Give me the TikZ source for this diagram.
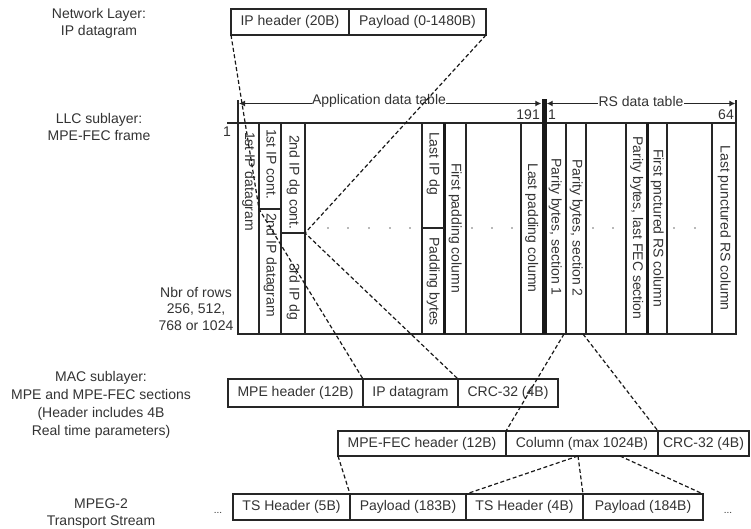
\documentclass[tikz,border=0pt]{standalone}
\usepackage{fontspec}
\setmainfont{Liberation Sans}
\usetikzlibrary{arrows.meta}
\begin{document}
\begin{tikzpicture}[x=1pt,y=-1pt,
  every node/.style={font=\fontsize{14}{17}\selectfont, text=black!80},
  cell/.style={draw=black!85, line width=1.2pt, inner sep=0pt, outer sep=0pt},
  lbl/.style={align=center, inner sep=0pt},
  rot/.style={rotate=-90, inner sep=0pt, text height=10pt, text depth=3pt},
  gridline/.style={draw=black!85, line width=1.2pt},
  boldcol/.style={draw=black!90, line width=3pt},
  sepcol/.style={draw=black!90, line width=5pt},
  dashline/.style={draw=black!90, line width=1.2pt, dash pattern=on 4pt off 2.5pt},
  dotmark/.style={circle, fill=black!55, inner sep=0pt, minimum size=1.7pt},
  dimline/.style={draw=black!85, line width=1.2pt},
  tip/.style={-{Latex[length=6pt,width=6pt]}},
]
\fill[white] (0,0) rectangle (751,528);
\useasboundingbox (0,0) rectangle (751,528);

% ---------------- left labels
\node[lbl] (netl) at (99,23.5) {Network Layer:\\IP datagram};
\node[lbl] (llc) at (99,126.5) {LLC sublayer:\\MPE-FEC frame};
\node[lbl, font=\fontsize{14}{16.5}\selectfont] (rows) at (196,308.5) {Nbr of rows\\256, 512,\\768 or 1024};
\node[lbl, font=\fontsize{14}{18}\selectfont] (mac) at (101,405) {MAC sublayer:\\MPE and MPE-FEC sections\\(Header includes 4B\\Real time parameters)};
\node[lbl] (mpeg) at (101,513.5) {MPEG-2\\Transport Stream};

% ---------------- IP datagram
\node[cell, minimum width=118pt, minimum height=26pt] (iph) at (290,22) {IP header (20B)};
\node[cell, minimum width=137pt, minimum height=26pt] (ipp) at (417.5,22) {Payload (0-1480B)};

% ---------------- MPE-FEC frame grid
\draw[gridline] (227,123) -- (736,123);
\draw[gridline] (238,100) -- (238,334) -- (736,334) -- (736,100);
\foreach \cx in {259,281,305,422,466,521,566,586,626,667,712}
  \draw[gridline] (\cx,123) -- (\cx,334);
\draw[boldcol] (444,123) -- (444,334);
\draw[boldcol] (647,123) -- (647,334);
\draw[sepcol] (544,99) -- (544,334);
\draw[gridline] (259,209) -- (281,209);
\draw[gridline] (281,233) -- (305,233);
\draw[gridline] (422,228) -- (444,228);

% dots
\foreach \dx in {328,348,369,390,410,472,492,512,593,613,674,695}
  \node[dotmark] at (\dx,228) {};

% dimension arrows
\coordinate (appL) at (239,103.5);
\coordinate (appR) at (541.3,103.5);
\coordinate (rsL) at (546.7,103.5);
\coordinate (rsR) at (735.4,103.5);
\draw[dimline, tip] (379,103.5) -- (appL);
\draw[dimline, tip] (379,103.5) -- (appR);
\draw[dimline, tip] (641,103.5) -- (rsL);
\draw[dimline, tip] (641,103.5) -- (rsR);
\node[fill=white, inner sep=0.5pt] (appt) at (379,101) {Application data table};
\node[fill=white, inner sep=0.5pt] (rst) at (641,101) {RS data table};

\node (n1a) at (227,132) {1};
\node[anchor=east, inner sep=0pt] (n191) at (540,115) {191};
\node[anchor=west, inner sep=0pt] (n1b) at (548,115) {1};
\node[anchor=east, inner sep=0pt] (n64) at (734,115) {64};

% column texts
\node[rot, anchor=west] (c1) at (248.5,132) {1st IP datagram};
\node[rot, anchor=west] (c2a) at (270,129) {1st IP cont.};
\node[rot, anchor=west] (c2b) at (270,213) {2nd IP datagram};
\node[rot, anchor=west] (c3a) at (293,135) {2nd IP dg cont.};
\node[rot, anchor=west] (c3b) at (293,263) {3rd IP dg};
\node[rot, anchor=west] (c4a) at (433,132) {Last IP dg};
\node[rot, anchor=west] (c4b) at (433,237) {Padding bytes};
\node[rot] (c5) at (455,228) {First padding column};
\node[rot] (c6) at (531.5,228) {Last padding column};
\node[rot] (c7) at (555,227) {Parity bytes, section 1};
\node[rot] (c8) at (576,228) {Parity bytes, section 2};
\node[rot] (c9) at (636.5,228) {Parity bytes, last FEC section};
\node[rot] (c10) at (657,228) {First pnctured RS column};
\node[rot] (c11) at (724,228) {Last punctured RS column};

% ---------------- MPE section
\node[cell, minimum width=135pt, minimum height=28pt] (mpeh) at (295.5,393) {MPE header (12B)};
\node[cell, minimum width=95pt, minimum height=28pt] (mpeip) at (410.5,393) {IP datagram};
\node[cell, minimum width=100pt, minimum height=28pt] (mpecrc) at (508,393) {CRC-32 (4B)};

% ---------------- MPE-FEC section
\node[cell, minimum width=168pt, minimum height=25pt] (fech) at (422,443.5) {MPE-FEC header (12B)};
\node[cell, minimum width=152pt, minimum height=25pt] (feccol) at (582,443.5) {Column (max 1024B)};
\node[cell, minimum width=91pt, minimum height=25pt] (feccrc) at (703.5,443.5) {CRC-32 (4B)};

% ---------------- TS packets
\node[cell, minimum width=117pt, minimum height=26pt] (ts1) at (291.5,507) {TS Header (5B)};
\node[cell, minimum width=116pt, minimum height=26pt] (pl1) at (408,507) {Payload (183B)};
\node[cell, minimum width=117pt, minimum height=26pt] (ts2) at (524.5,507) {TS Header (4B)};
\node[cell, minimum width=120pt, minimum height=26pt] (pl2) at (643,507) {Payload (184B)};
\node[anchor=base, font=\fontsize{10}{12}\selectfont] (ell1) at (218,513) {...};
\node[anchor=base, font=\fontsize{10}{12}\selectfont] (ell2) at (728,513) {...};

% ---------------- dashed mapping lines
\coordinate (sp2) at (259,209);
\coordinate (sp3) at (305,233);
\coordinate (ps1) at (564,334);
\coordinate (ps2) at (583,334);
\coordinate (colb) at (578,456);
\coordinate (colc) at (620,456);
\draw[dashline] (iph.south west) -- (sp2) -- (mpeip.north west);
\draw[dashline] (ipp.south east) -- (sp3) -- (mpecrc.north west);
\draw[dashline] (ps1) -- (feccol.north west);
\draw[dashline] (ps2) -- (feccrc.north west);
\draw[dashline] (fech.south west) -- (pl1.north west);
\draw[dashline] (colb) -- (ts2.north west);
\draw[dashline] (colb) -- (pl2.north west);
\draw[dashline] (colc) -- (pl2.north east);
\end{tikzpicture}
\end{document}
